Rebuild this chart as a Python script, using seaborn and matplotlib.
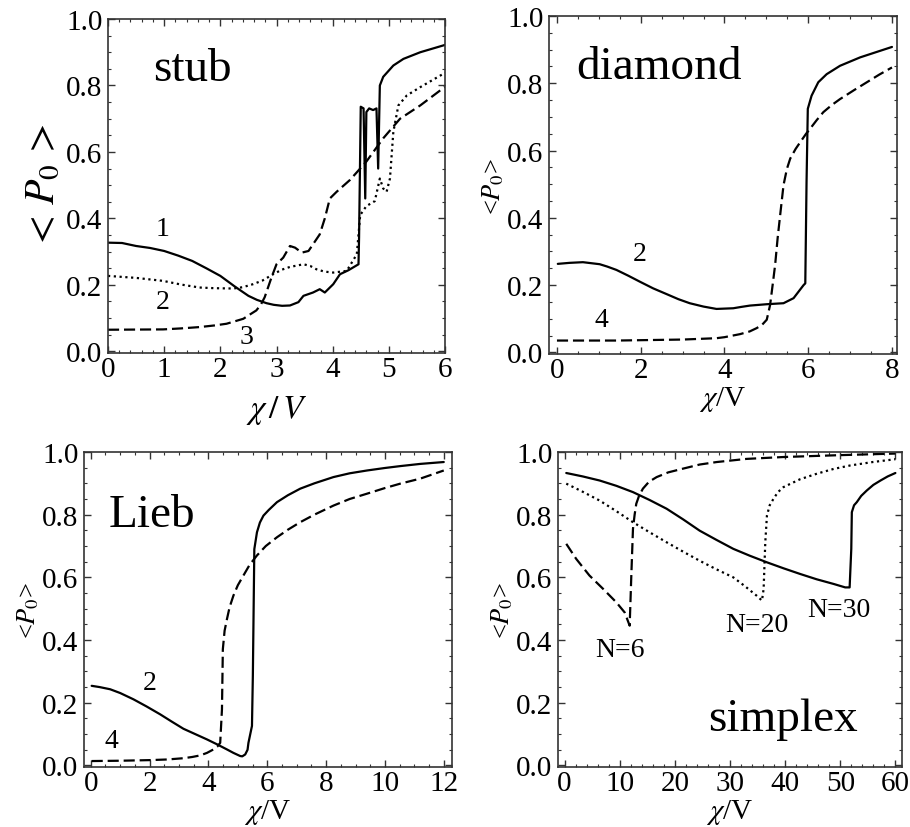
import numpy as np
import pandas as pd
import matplotlib
matplotlib.use("Agg")
import matplotlib.pyplot as plt
import seaborn as sns
from matplotlib.ticker import MultipleLocator, FormatStrFormatter

# ---------------- data ----------------
# stub
stub1_x = [0.0, 0.25, 0.5, 0.75, 1.0, 1.25, 1.5, 1.75, 2.0, 2.25, 2.5, 2.65, 2.82, 2.95, 3.1, 3.24, 3.39, 3.48,
           3.65, 3.77, 3.86, 4.01, 4.13, 4.28, 4.46,
           4.47, 4.50, 4.55, 4.58, 4.60, 4.65, 4.72, 4.78, 4.81, 4.84, 4.90, 5.08, 5.26, 5.56, 6.0]
stub1_y = [0.327, 0.326, 0.317, 0.311, 0.302, 0.288, 0.272, 0.25, 0.227, 0.196, 0.167, 0.155, 0.145, 0.14, 0.137,
           0.138, 0.148, 0.167, 0.177, 0.187, 0.177,
           0.202, 0.232, 0.244, 0.262, 0.342, 0.736, 0.731, 0.46, 0.72, 0.731, 0.726, 0.731, 0.55, 0.80, 0.826,
           0.86, 0.88, 0.90, 0.922]
stub2_x = [0.0, 0.5, 0.98, 1.3, 1.63, 1.9, 2.23, 2.4, 2.58, 2.75, 2.94, 3.1, 3.24, 3.48, 3.6, 3.71, 3.85, 4.01,
           4.25, 4.43, 4.49, 4.6, 4.75, 4.84, 4.9,
           4.96, 5.02, 5.08, 5.17, 5.32, 5.56, 6.0]
stub2_y = [0.227, 0.221, 0.212, 0.201, 0.192, 0.19, 0.189, 0.193, 0.202, 0.213, 0.232, 0.246, 0.254, 0.262,
           0.257, 0.247, 0.24, 0.237, 0.242, 0.292, 0.41, 0.437,
           0.452, 0.52, 0.49, 0.48, 0.52, 0.66, 0.74, 0.77, 0.795, 0.838]
stub3_x = [0.0, 0.98, 1.3, 1.63, 1.9, 2.11, 2.25, 2.41, 2.5, 2.64, 2.72, 2.79, 2.91, 3.0, 3.12, 3.24, 3.33, 3.45,
           3.57, 3.77, 3.86, 3.95,
           4.07, 4.31, 4.6, 4.9, 5.2, 5.56, 6.0]
stub3_y = [0.065, 0.066, 0.069, 0.073, 0.078, 0.083, 0.09, 0.098, 0.108, 0.123, 0.14, 0.163, 0.222, 0.262, 0.282,
           0.317, 0.312, 0.297, 0.302,
           0.352, 0.40, 0.46, 0.48, 0.516, 0.571, 0.641, 0.70, 0.74, 0.796]

# diamond
dia2_x = [0.02, 0.3, 0.62, 1.02, 1.2, 1.42, 1.7, 1.98, 2.3, 2.62, 2.9, 3.17, 3.5, 3.81, 4.21, 4.4, 4.61, 5.01,
          5.41, 5.65, 5.89, 5.93, 5.96, 5.99,
          6.08, 6.24, 6.44, 6.76, 7.24, 8.0]
dia2_y = [0.263, 0.266, 0.268, 0.262, 0.255, 0.245, 0.228, 0.21, 0.19, 0.173, 0.158, 0.146, 0.136, 0.129, 0.131,
          0.135, 0.139, 0.143, 0.146, 0.161, 0.20, 0.205,
          0.506, 0.724, 0.763, 0.803, 0.827, 0.852, 0.877, 0.908]
dia4_x = [0.0, 1.42, 3.01, 3.81, 4.0, 4.37, 4.6, 4.77, 4.9, 5.01, 5.09, 5.15, 5.21, 5.27, 5.33, 5.41, 5.49, 5.57,
          5.7, 5.81, 5.95, 6.04, 6.2, 6.36, 6.56, 6.76, 7.1, 7.4, 7.7, 8.0]
dia4_y = [0.035, 0.035, 0.038, 0.042, 0.045, 0.054, 0.062, 0.072, 0.082, 0.097, 0.141, 0.2, 0.26, 0.34, 0.408,
          0.497, 0.545, 0.576, 0.605, 0.625, 0.65, 0.664, 0.69,
          0.714, 0.735, 0.753, 0.78, 0.803, 0.826, 0.847]

# Lieb
lieb2_x = [0.03, 0.3, 0.66, 1.0, 1.45, 1.9, 2.36, 2.75, 3.15, 3.55, 3.95, 4.3, 4.63, 4.85, 5.08, 5.15, 5.25, 5.33,
           5.36, 5.42, 5.48, 5.51, 5.56, 5.65, 5.75, 5.87, 6.05, 6.33, 6.7,
           7.12, 7.6, 8.25, 8.8, 9.39, 10.0, 10.52, 11.2, 12.0]
lieb2_y = [0.254, 0.25, 0.243, 0.231, 0.211, 0.188, 0.163, 0.14, 0.117, 0.1, 0.083, 0.067, 0.051, 0.04, 0.030,
           0.029, 0.035, 0.05, 0.072, 0.099, 0.126, 0.286, 0.69,
           0.744, 0.775, 0.797, 0.815, 0.84, 0.862, 0.883, 0.9, 0.92, 0.932, 0.941, 0.949, 0.955, 0.962, 0.968]
lieb4_x = [0.03, 1.0, 2.02, 2.6, 3.15, 3.45, 3.72, 3.95, 4.17, 4.3, 4.40, 4.46, 4.49, 4.55, 4.63, 4.72, 4.85, 5.0,
           5.19, 5.4, 5.65, 5.95, 6.33, 6.7, 7.12, 7.6, 8.25, 8.8, 9.39, 10.0, 10.52, 11.2, 12.0]
lieb4_y = [0.014, 0.015, 0.017, 0.019, 0.023, 0.027, 0.032, 0.04, 0.051, 0.06, 0.072, 0.179, 0.371, 0.43, 0.467,
           0.505, 0.542, 0.575, 0.606, 0.64, 0.67, 0.7, 0.728, 0.752, 0.776, 0.8,
           0.829, 0.85, 0.867, 0.885, 0.899, 0.915, 0.941]

# simplex
n30_x = [0.3, 3.3, 6.36, 9.4, 12.4, 15.4, 18.5, 21.5, 24.5, 27.5, 30.6, 33.6, 36.7, 39.7, 42.7, 45.7, 48.8, 50.9,
         51.7, 52.0, 52.1, 52.5, 53.0, 53.8, 54.8, 56.0, 57.3, 58.6, 60.0]
n30_y = [0.933, 0.922, 0.909, 0.892, 0.872, 0.847, 0.819, 0.785, 0.749, 0.72, 0.691, 0.669, 0.648, 0.629, 0.611,
         0.594, 0.579, 0.568, 0.568, 0.691, 0.808, 0.83, 0.84, 0.86,
         0.877, 0.895, 0.909, 0.922, 0.933]
n20_x = [0.3, 3.3, 6.36, 9.4, 12.4, 15.4, 18.5, 21.5, 24.5, 27.5, 30.6, 32.7, 34.8, 35.8, 36.1, 36.4, 36.7, 37.2,
         37.9, 38.7, 39.7, 42.7, 45.8, 48.8, 51.8, 55.9, 60.0]
n20_y = [0.899, 0.873, 0.845, 0.811, 0.776, 0.744, 0.712, 0.682, 0.653, 0.626, 0.60, 0.572, 0.542, 0.526, 0.563,
         0.712, 0.797, 0.83, 0.851, 0.872, 0.888, 0.913, 0.931, 0.946,
         0.957, 0.968, 0.977]
n6_x = [0.3, 2.1, 4.5, 7.0, 9.4, 10.9, 11.8, 12.1, 12.4, 12.7, 13.0, 13.5, 14.2, 15.3, 16.7, 18.8, 21.5, 24.5,
        27.6, 33.0, 39.7, 50.0, 60.0]
n6_y = [0.707, 0.659, 0.606, 0.563, 0.52, 0.488, 0.446, 0.606, 0.755, 0.8, 0.835, 0.86, 0.883, 0.905, 0.92, 0.935,
        0.947, 0.96, 0.968, 0.978, 0.984, 0.99, 0.995]

yticks = [0.0, 0.2, 0.4, 0.6, 0.8, 1.0]

# ---------------- style ----------------
sns.set_style("ticks")
plt.rcParams['font.family'] = ['Liberation Serif', 'DejaVu Serif']
plt.rcParams['mathtext.fontset'] = 'stix'
plt.rcParams['axes.edgecolor'] = '#333333'
plt.rcParams['axes.linewidth'] = 1.2
plt.rcParams['text.color'] = 'black'
plt.rcParams['axes.labelcolor'] = 'black'
plt.rcParams['xtick.labelcolor'] = 'black'
plt.rcParams['ytick.labelcolor'] = 'black'

W, H = 910, 828
fig = plt.figure(figsize=(W / 100, H / 100), dpi=100)


def box(l, t, r, b):
    return [l / W, 1 - b / H, (r - l) / W, (b - t) / H]


ax1 = fig.add_axes(box(108, 20, 445, 354))
ax2 = fig.add_axes(box(549, 17, 897, 355))
ax3 = fig.add_axes(box(84, 453, 452, 768))
ax4 = fig.add_axes(box(558, 453, 902, 768))

SOLID = '-'
DOT = (0, (1.0, 1.6))
DASH = (0, (5.0, 2.2))
LW = 1.6


def draw(ax, xs, ys, ls):
    df = pd.DataFrame({'x': xs, 'y': ys})
    sns.lineplot(data=df, x='x', y='y', ax=ax, estimator=None, sort=False,
                 color='black', linewidth=LW, linestyle=ls)


draw(ax1, stub1_x, stub1_y, SOLID)
draw(ax1, stub2_x, stub2_y, DOT)
draw(ax1, stub3_x, stub3_y, DASH)

draw(ax2, dia2_x, dia2_y, SOLID)
draw(ax2, dia4_x, dia4_y, DASH)

draw(ax3, lieb2_x, lieb2_y, SOLID)
draw(ax3, lieb4_x, lieb4_y, DASH)

draw(ax4, n30_x, n30_y, SOLID)
draw(ax4, n20_x, n20_y, DOT)
draw(ax4, n6_x, n6_y, DASH)

TICK_FS = 21


def style(ax, xlim, xmaj, xmin):
    ax.set_xlim(*xlim)
    ax.set_ylim(-0.005, 1.0)
    ax.xaxis.set_major_locator(MultipleLocator(xmaj))
    ax.xaxis.set_minor_locator(MultipleLocator(xmin))
    ax.set_yticks(yticks)
    ax.yaxis.set_minor_locator(MultipleLocator(0.05))
    ax.yaxis.set_major_formatter(FormatStrFormatter('%.1f'))
    ax.tick_params(which='both', direction='in', top=True, right=True, colors='#333333',
                   labelcolor='black', labelsize=TICK_FS)
    ax.tick_params(which='major', length=5, width=1.0, pad=2)
    ax.tick_params(axis='y', which='major', pad=4)
    ax.tick_params(which='minor', length=2.5, width=0.8)
    for s in ax.spines.values():
        s.set_visible(True)


style(ax1, (0, 6), 1, 0.2)
style(ax2, (-0.19, 8.12), 2, 0.5)
style(ax3, (-0.23, 12.28), 2, 0.5)
style(ax4, (-1.2, 61.2), 10, 2)

# axis labels
ax1.set_xlabel(r'$\chi\,/\,V$', fontsize=24, labelpad=8, color='black')
ax1.set_ylabel(r'$<\,P_0\,>$', fontsize=30, labelpad=2, color='black')
for ax in (ax2, ax3, ax4):
    ax.set_xlabel(r'$\chi$/V', fontsize=21, labelpad=1, color='black')
    ax.set_ylabel(r'<$P_0$>', fontsize=19, labelpad=1, color='black')

# annotations
TFS = 34
ax1.text(0.8, 0.85, 'stub', fontsize=TFS, va='center', ha='left', color='black')
ax2.text(0.46, 0.85, 'diamond', fontsize=TFS, va='center', ha='left', color='black')
ax3.text(0.6, 0.80, 'Lieb', fontsize=TFS, va='center', ha='left', color='black')
ax4.text(39.7, 0.15, 'simplex', fontsize=TFS, va='center', ha='center', color='black')

LFS = 20
ax1.text(0.98, 0.37, '1', fontsize=LFS, ha='center', va='center', color='black')
ax1.text(0.98, 0.15, '2', fontsize=LFS, ha='center', va='center', color='black')
ax1.text(2.47, 0.045, '3', fontsize=LFS, ha='center', va='center', color='black')
ax2.text(1.98, 0.294, '2', fontsize=LFS, ha='center', va='center', color='black')
ax2.text(1.06, 0.097, '4', fontsize=LFS, ha='center', va='center', color='black')
ax3.text(2.02, 0.264, '2', fontsize=LFS, ha='center', va='center', color='black')
ax3.text(0.71, 0.078, '4', fontsize=LFS, ha='center', va='center', color='black')
ax4.text(10.0, 0.371, 'N=6', fontsize=LFS, ha='center', va='center', color='black')
ax4.text(34.8, 0.451, 'N=20', fontsize=LFS, ha='center', va='center', color='black')
ax4.text(49.7, 0.499, 'N=30', fontsize=LFS, ha='center', va='center', color='black')

fig.savefig('out.png', dpi=100)
